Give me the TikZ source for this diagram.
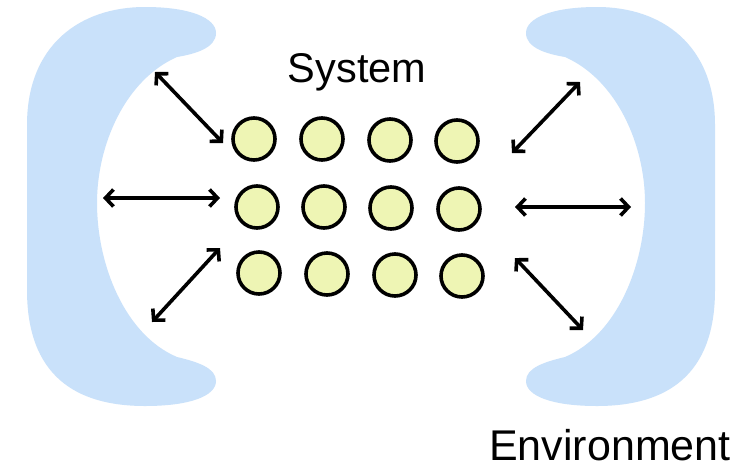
\documentclass[tikz,border=0pt]{standalone}
\usepackage{fontspec}
\setmainfont{Liberation Sans}
\usetikzlibrary{arrows.meta}
\definecolor{envblue}{HTML}{C9E1FA}
\definecolor{partyellow}{HTML}{EEF5B4}
\begin{document}
\begin{tikzpicture}[x=1pt,y=-1pt,
  particle/.style={circle,draw=black,line width=3.6pt,fill=partyellow,minimum size=42pt,inner sep=0pt},
  envblob/.style={fill=envblue,draw=none},
  exchange/.style={line width=3.6pt,{Straight Barb[length=8pt,width=17pt]}-{Straight Barb[length=8pt,width=17pt]}},
  label/.style={font=\fontsize{41.5}{46}\selectfont},
  biglabel/.style={font=\fontsize{43}{48}\selectfont}]
\useasboundingbox (0,0) rectangle (749,472);
\fill[white] (0,0) rectangle (749,472);

% environment: two crescent-shaped reservoirs, the right one mirrored
\def\crescent{
  (27,125) .. controls (27,45) and (80,7) .. (145,7)
  .. controls (190,7) and (216,18) .. (216,33)
  .. controls (216,48) and (195,54) .. (177,57)
  .. controls (125,80) and (97,145) .. (97,203)
  .. controls (97,265) and (125,335) .. (177,357)
  .. controls (198,362) and (216,368) .. (216,381)
  .. controls (216,396) and (190,406) .. (145,406)
  .. controls (75,406) and (27,375) .. (27,290) -- cycle}
\fill[envblob] \crescent;
\begin{scope}[xshift=742pt,xscale=-1]
  \fill[envblob] \crescent;
\end{scope}

% system: 3 x 4 array of particles
\node[particle] (c11) at (254,139) {};
\node[particle] (c12) at (322,139) {};
\node[particle] (c13) at (390,140) {};
\node[particle] (c14) at (457,141) {};
\node[particle] (c21) at (257,207) {};
\node[particle] (c22) at (324,207) {};
\node[particle] (c23) at (391,208) {};
\node[particle] (c24) at (459,209) {};
\node[particle] (c31) at (259,273) {};
\node[particle] (c32) at (327,274) {};
\node[particle] (c33) at (395,275) {};
\node[particle] (c34) at (462,276) {};

% arrow end points
\coordinate (lt1) at (155,72);  \coordinate (lt2) at (223,143);
\coordinate (lm1) at (103,198); \coordinate (lm2) at (220,198);
\coordinate (lb1) at (152,322); \coordinate (lb2) at (220,248);
\coordinate (rt1) at (580,82);  \coordinate (rt2) at (512,153);
\coordinate (rm1) at (515,207); \coordinate (rm2) at (631,207);
\coordinate (rb1) at (515,258); \coordinate (rb2) at (583,330);

% exchange between system and environment
\draw[exchange] (lt1) -- (lt2);
\draw[exchange] (lm1) -- (lm2);
\draw[exchange] (lb1) -- (lb2);
\draw[exchange] (rt1) -- (rt2);
\draw[exchange] (rm1) -- (rm2);
\draw[exchange] (rb1) -- (rb2);

% labels
\node[label,anchor=base] (sys) at (357,82) {System};
\node[biglabel,anchor=base] (env) at (610,460) {Environment};
\end{tikzpicture}
\end{document}
